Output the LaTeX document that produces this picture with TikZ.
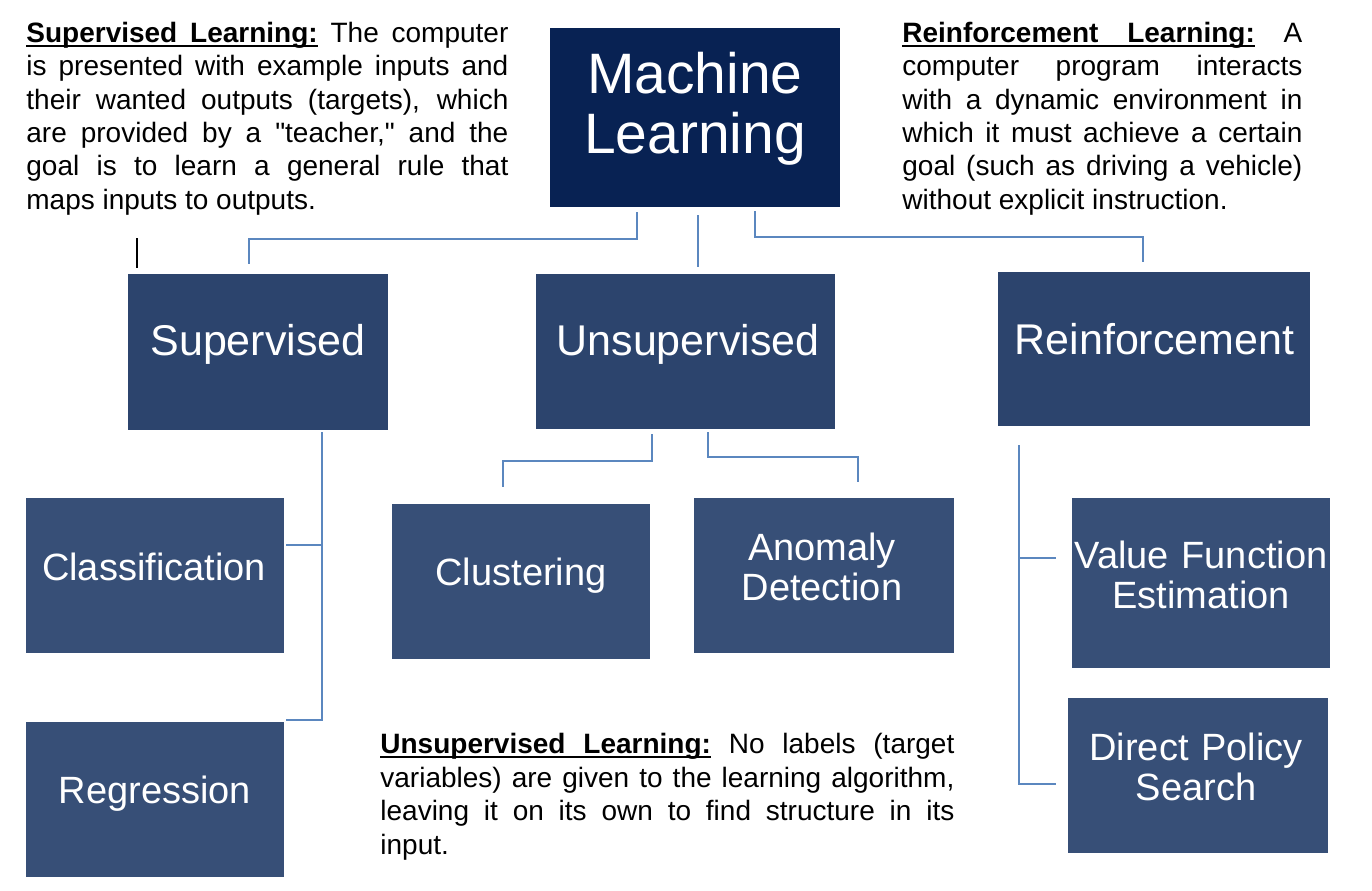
\documentclass[tikz,border=0pt]{standalone}
\usepackage{fontspec}
\setmainfont{Liberation Sans}[Ligatures=TeXOff]
\usetikzlibrary{calc}
\definecolor{mlblue}{HTML}{082253}
\definecolor{lvtwo}{HTML}{2C446D}
\definecolor{lvthree}{HTML}{374F77}
\definecolor{connblue}{HTML}{5B87BF}
\newcommand{\ulword}[1]{\leavevmode\setbox0\hbox{\bfseries #1}\rlap{\vrule height -1.3pt depth 2.3pt width\wd0}\box0\relax}
\newcommand{\ulspace}{\leaders\hrule height -1.3pt depth 2.3pt\hskip\fontdimen2\font plus\fontdimen3\font minus\fontdimen4\font\relax}
\begin{document}
\begin{tikzpicture}[x=0.5pt,y=-0.5pt,
  boxbase/.style={inner sep=0pt, outer sep=0pt, draw=none},
  mlbox/.style={boxbase, fill=mlblue},
  lvtwobox/.style={boxbase, fill=lvtwo},
  lvthreebox/.style={boxbase, fill=lvthree},
  boxlabel/.style={inner sep=0pt, text=white, anchor=base, align=center},
  mltext/.style={boxlabel, font=\fontsize{28.5}{30}\selectfont, text width=145pt},
  lvtwotext/.style={boxlabel, font=\fontsize{21.5}{22}\selectfont, text width=160pt},
  lvthreetext/.style={boxlabel, font=\fontsize{19}{20}\selectfont, text width=135pt},
  desc/.style={inner sep=0pt, anchor=base west, align=justify},
  conn/.style={draw=connblue, line width=1pt},
  stray/.style={draw=black, line width=0.75pt},
]
\fill[white] (0,0) rectangle (1372,890);
\useasboundingbox (0,0) rectangle (1372,890);

% boxes
\node[mlbox, minimum width=145pt, minimum height=89.5pt] (ml) at (695,117.5) {};
\node[lvtwobox, minimum width=130pt, minimum height=78pt] (sup) at (258,352) {};
\node[lvtwobox, minimum width=149.5pt, minimum height=77.5pt] (uns) at (685.5,351.5) {};
\node[lvtwobox, minimum width=156pt, minimum height=77pt] (rei) at (1154,349) {};
\node[lvthreebox, minimum width=129pt, minimum height=77.5pt] (cls) at (155,575.5) {};
\node[lvthreebox, minimum width=129pt, minimum height=77.5pt] (reg) at (155,799.5) {};
\node[lvthreebox, minimum width=129pt, minimum height=77.5pt] (clu) at (521,581.5) {};
\node[lvthreebox, minimum width=130pt, minimum height=77.5pt] (ano) at (824,575.5) {};
\node[lvthreebox, minimum width=129pt, minimum height=85pt] (vfe) at (1201,583) {};
\node[lvthreebox, minimum width=130pt, minimum height=77.5pt] (dps) at (1198,775.5) {};

% box texts
\node[mltext] (mlt) at (695,93) {Machine\\Learning};
\node[lvtwotext] (supt) at (258,355) {Supervised};
\node[lvtwotext] (unst) at (688,355) {Unsupervised};
\node[lvtwotext] (reit) at (1154.5,354) {Reinforcement};
\node[lvthreetext] (clst) at (154,580) {Classification};
\node[lvthreetext] (regt) at (155,803) {Regression};
\node[lvthreetext] (clut) at (521,585) {Clustering};
\node[lvthreetext] (anot) at (822,560) {Anomaly\\Detection};
\node[lvthreetext] (vfet) at (1201,568) {Value Function\\Estimation};
\node[lvthreetext] (dpst) at (1196,760) {Direct Policy\\Search};

% descriptions
\node[desc, text width=241pt, font=\fontsize{14}{16.65}\selectfont] (supd) at (26,42.5)
{\hyphenpenalty=10000\tolerance=10000\noindent\ulword{Supervised}\ulspace\ulword{Learning:} The computer\linebreak is presented with example inputs and\linebreak their wanted outputs (targets), which\linebreak are provided by a "teacher," and the\linebreak goal is to learn a general rule that\linebreak maps inputs to outputs.};

\node[desc, text width=200pt, font=\fontsize{14}{16.65}\selectfont] (reid) at (902,42.5)
{\hyphenpenalty=10000\tolerance=10000\noindent\ulword{Reinforcement}\ulspace\ulword{Learning:} A\linebreak computer program interacts\linebreak with a dynamic environment in\linebreak which it must achieve a certain\linebreak goal (such as driving a vehicle)\linebreak without explicit instruction.};

\node[desc, text width=287pt, font=\fontsize{14}{16.8}\selectfont] (unsd) at (380,753.5)
{\hyphenpenalty=10000\tolerance=10000\noindent\ulword{Unsupervised}\ulspace\ulword{Learning:} No labels (target\linebreak variables) are given to the learning algorithm,\linebreak leaving it on its own to find structure in its\linebreak input.};

% connectors from Machine Learning
\draw[conn] ($(ml.south)+(-58,5)$) -- ++(0,26.5) -| ($(sup.north)+(-9,-10)$);
\draw[conn] ($(ml.south)+(3,8)$) -- ($(uns.north)+(12.5,-7)$);
\draw[conn] ($(ml.south)+(60,4)$) -- ++(0,25.5) -| ($(rei.north)+(-11,-10)$);

% supervised children
\draw[conn] ($(sup.south)+(64,2)$) |- ($(reg.north east)+(2,-2)$);
\draw[conn] ($(cls.east)+(2,-30.5)$) -- ++(36,0);

% unsupervised children
\draw[conn] ($(uns.south)+(-33.5,5)$) -- ++(0,26.5) -| ($(clu.north)+(-18,-17)$);
\draw[conn] ($(uns.south)+(22.5,3)$) -- ++(0,25) -| ($(ano.north)+(34,-16)$);

% reinforcement children
\draw[conn] ($(rei.south)+(-135,19)$) |- ($(dps.west)+(-12,8.5)$);
\draw[conn] ($(vfe.west)+(-53,-25)$) -- ++(37,0);

% stray mark
\coordinate (m1) at (137,238);
\coordinate (m2) at (137,268);
\draw[stray] (m1) -- (m2);
\end{tikzpicture}
\end{document}
